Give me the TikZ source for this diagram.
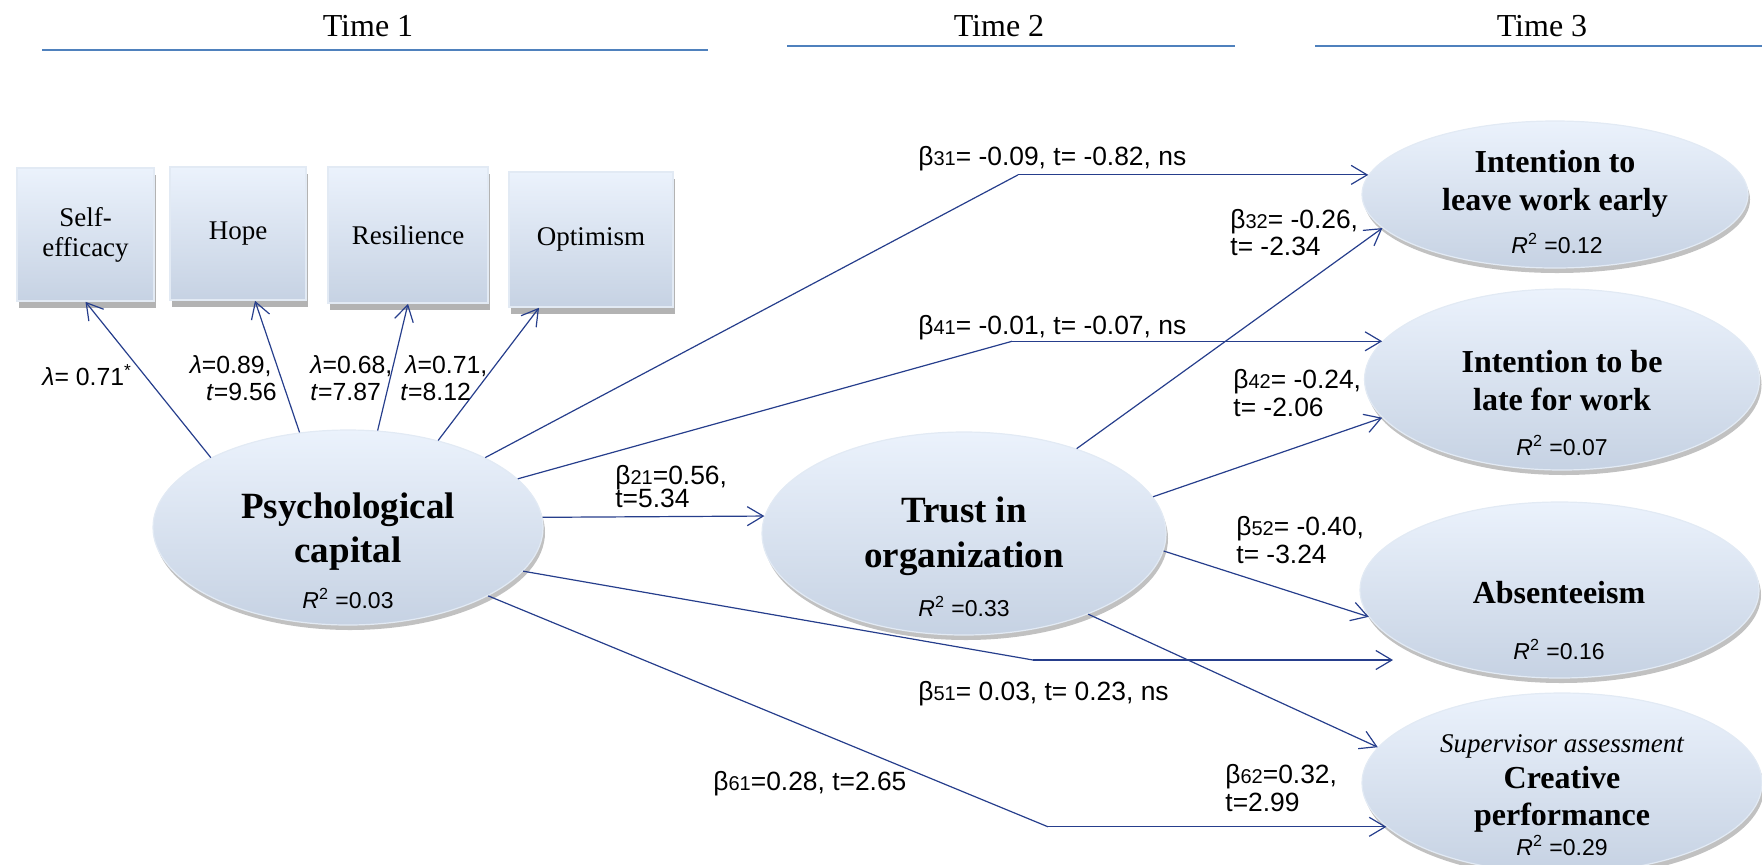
\documentclass[tikz,border=0pt]{standalone}
\usepackage{fontspec}
\setmainfont{Liberation Serif}
\newfontfamily\lsans{Liberation Sans}
\usetikzlibrary{shapes.geometric,arrows.meta,shadows}
\definecolor{arrowblue}{RGB}{38,62,140}
\definecolor{hdrblue}{RGB}{79,129,189}
\definecolor{topfill}{RGB}{235,242,252}
\definecolor{botfill}{RGB}{198,210,227}
\definecolor{edgec}{RGB}{226,234,244}
\newcommand{\bsub}[1]{{\fontsize{10pt}{10pt}\selectfont #1}}
\begin{document}
\begin{tikzpicture}[x=0.5pt,y=-0.5pt,
  shad/.style={drop shadow={shadow xshift=1pt, shadow yshift=-2.5pt, opacity=0.3, fill=black!80}},
  bshad/.style={drop shadow={shadow xshift=1.2pt, shadow yshift=-3.5pt, opacity=0.4, fill=black!75}},
  ell/.style={ellipse, inner sep=0pt, top color=topfill, bottom color=botfill, draw=edgec, line width=0.6pt, shad},
  box/.style={rectangle, inner sep=0pt, top color=topfill, bottom color=botfill, draw=edgec, line width=0.8pt, bshad, align=center, font=\fontsize{13.5pt}{15pt}\selectfont},
  arr/.style={draw=arrowblue, line width=0.6pt, -{Straight Barb[length=8pt,width=9.5pt]}},
  seg/.style={draw=arrowblue, line width=0.6pt},
  hdr/.style={inner sep=0pt, font=\fontsize{16pt}{18pt}\selectfont},
  hline/.style={draw=hdrblue, line width=0.7pt},
  lab/.style={inner sep=0pt, font=\lsans\fontsize{13.2pt}{15pt}\selectfont},
  llab/.style={inner sep=0pt, font=\lsans\fontsize{12.4pt}{15pt}\selectfont},
  bigb/.style={inner sep=0pt, font=\bfseries\fontsize{18.5pt}{22pt}\selectfont},
  medb/.style={inner sep=0pt, font=\bfseries\fontsize{16pt}{19pt}\selectfont},
  rsq/.style={inner sep=0pt, font=\lsans\fontsize{11.5pt}{13pt}\selectfont},
  sup/.style={inner sep=0pt, font=\itshape\fontsize{13.5pt}{15pt}\selectfont}
]
\useasboundingbox (0,0) rectangle (1762,864);

% header
\node[hdr, anchor=base] (t1) at (368,36) {Time 1};
\node[hdr, anchor=base] (t2) at (999,36) {Time 2};
\node[hdr, anchor=base] (t3) at (1542,36) {Time 3};
\draw[hline] (42,50) -- (708,50);
\draw[hline] (787,46) -- (1235,46);
\draw[hline] (1315,46) -- (1762,46);

% indicator boxes
\node[box, minimum width=68.5pt, minimum height=66.5pt] (se) at (85.5,234.5) {Self-\\efficacy};
\node[box, minimum width=68pt, minimum height=66.5pt] (hp) at (238,233.5) {Hope};
\node[box, minimum width=80pt, minimum height=68pt] (rs) at (408,235) {Resilience};
\node[box, minimum width=82pt, minimum height=67.5pt] (op) at (591,239.5) {Optimism};

% ellipses
\node[ell, minimum width=195pt, minimum height=97.5pt] (ps) at (348,527.5) {};
\node[ell, minimum width=202pt, minimum height=101.5pt] (tr) at (964,533.5) {};
\node[ell, minimum width=193pt, minimum height=73.5pt] (il) at (1555,194.5) {};
\node[ell, minimum width=197.5pt, minimum height=90.5pt] (ilt) at (1562,379.5) {};
\node[ell, minimum width=199.5pt, minimum height=88pt] (ab) at (1559.5,590) {};
\node[ell, minimum width=200pt, minimum height=90pt] (cp) at (1562,783) {};

% ellipse texts
\node[bigb, anchor=base] (psa) at (348,518) {Psychological};
\node[bigb, anchor=base] (psb) at (348,562) {capital};
\node[rsq, anchor=base] (psr) at (348,608) {\textit{R}\textsuperscript{2} =0.03};
\node[bigb, anchor=base] (tra) at (964,522) {Trust in};
\node[bigb, anchor=base] (trb) at (964,567) {organization};
\node[rsq, anchor=base] (trr) at (964,616) {\textit{R}\textsuperscript{2} =0.33};
\node[medb, anchor=base] (ila) at (1555,172) {Intention to};
\node[medb, anchor=base] (ilb) at (1555,210) {leave work early};
\node[rsq, anchor=base] (ilr) at (1557,253) {\textit{R}\textsuperscript{2} =0.12};
\node[medb, anchor=base] (ilta) at (1562,372) {Intention to be};
\node[medb, anchor=base] (iltb) at (1562,410) {late for work};
\node[rsq, anchor=base] (iltr) at (1562,455) {\textit{R}\textsuperscript{2} =0.07};
\node[medb, anchor=base] (aba) at (1559,603) {Absenteeism};
\node[rsq, anchor=base] (abr) at (1559,659) {\textit{R}\textsuperscript{2} =0.16};
\node[sup, anchor=base] (cps) at (1562,752) {Supervisor assessment};
\node[medb, anchor=base] (cpa) at (1562,788) {Creative};
\node[medb, anchor=base] (cpb) at (1562,825) {performance};
\node[rsq, anchor=base] (cpr) at (1562,855) {\textit{R}\textsuperscript{2} =0.29};

% loadings
\draw[arr] (ps.153) -- (se.south);
\draw[arr] (ps.117) -- ([xshift=8.5pt]hp.south);
\draw[arr] (ps.73) -- (rs.south);
\draw[arr] (ps.44) -- ([xshift=-26pt]op.south);

% bend points
\coordinate (b31) at (1018,0 |- il.174);
\coordinate (b41) at (1012,0 |- ilt.168);
\coordinate (b51) at (1033,660);
\coordinate (t51) at (1393,660);
\coordinate (b61) at (1048,0 |- cp.194);

% structural paths
\draw[seg] (ps.27.6) -- (b31);
\draw[arr] (b31) -- (il.174);
\draw[seg] (ps.16) -- (b41);
\draw[arr] (b41) -- (ilt.168);
\draw[arr] (ps.3) -- (tr.175);
\draw[arr] (tr.37.3) -- (il.191.3);
\draw[arr] (tr.11.2) -- (ilt.192);
\draw[arr] (tr.355.3) -- (ab.188.4);
\draw[seg] (ps.346.3) -- (b51);
\draw[arr] (b51) -- (t51);
\draw[arr] (tr.327.9) -- (cp.169);
\draw[seg] (ps.334.9) -- (b61);
\draw[arr] (b61) -- (cp.194);

% loading labels
\node[llab, anchor=base west] (l1) at (42,385) {\textit{λ}= 0.71\textsuperscript{*}};
\node[llab, anchor=base east] (l2a) at (272,373) {\textit{λ}=0.89,};
\node[llab, anchor=base east] (l2b) at (277,400) {\textit{t}=9.56};
\node[llab, anchor=base west] (l3a) at (310,373) {\textit{λ}=0.68,};
\node[llab, anchor=base west] (l3b) at (310,400) {\textit{t}=7.87};
\node[llab, anchor=base west] (l4a) at (405,373) {\textit{λ}=0.71,};
\node[llab, anchor=base west] (l4b) at (400,400) {\textit{t}=8.12};

% path labels
\node[lab, anchor=base west] (p31) at (918,165) {β\bsub{31}= -0.09, t= -0.82, ns};
\node[lab, anchor=base west] (p41) at (918,334) {β\bsub{41}= -0.01, t= -0.07, ns};
\node[lab, anchor=base west] (p21a) at (615,484) {β\bsub{21}=0.56,};
\node[lab, anchor=base west] (p21b) at (615,507) {t=5.34};
\node[lab, anchor=base west] (p32a) at (1230,228) {β\bsub{32}= -0.26,};
\node[lab, anchor=base west] (p32b) at (1230,255) {t= -2.34};
\node[lab, anchor=base west] (p42a) at (1233,388) {β\bsub{42}= -0.24,};
\node[lab, anchor=base west] (p42b) at (1233,416) {t= -2.06};
\node[lab, anchor=base west] (p52a) at (1236,535) {β\bsub{52}= -0.40,};
\node[lab, anchor=base west] (p52b) at (1236,563) {t= -3.24};
\node[lab, anchor=base west] (p51) at (918,700) {β\bsub{51}= 0.03, t= 0.23, ns};
\node[lab, anchor=base west] (p62a) at (1225,783) {β\bsub{62}=0.32,};
\node[lab, anchor=base west] (p62b) at (1225,811) {t=2.99};
\node[lab, anchor=base west] (p61) at (713,790) {β\bsub{61}=0.28, t=2.65};
\end{tikzpicture}
\end{document}
